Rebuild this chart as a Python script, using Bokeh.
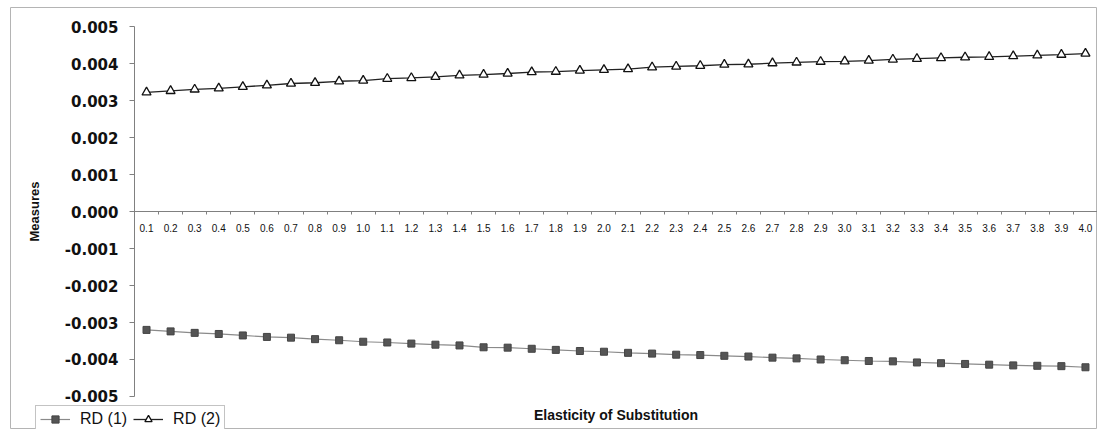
from bokeh.plotting import figure
from bokeh.models import Range1d, Legend, LegendItem, Label, NumeralTickFormatter, FixedTicker
from bokeh.embed import file_html
from bokeh.resources import INLINE

# Data
elasticity = ["0.1", "0.2", "0.3", "0.4", "0.5", "0.6", "0.7", "0.8", "0.9", "1.0",
              "1.1", "1.2", "1.3", "1.4", "1.5", "1.6", "1.7", "1.8", "1.9", "2.0",
              "2.1", "2.2", "2.3", "2.4", "2.5", "2.6", "2.7", "2.8", "2.9", "3.0",
              "3.1", "3.2", "3.3", "3.4", "3.5", "3.6", "3.7", "3.8", "3.9", "4.0"]
rd1 = [-0.00320, -0.00324, -0.00328, -0.00331, -0.00335, -0.00339, -0.00341, -0.00345, -0.00348, -0.00352,
       -0.00354, -0.00357, -0.00360, -0.00362, -0.00367, -0.00368, -0.00371, -0.00374, -0.00377, -0.00379,
       -0.00382, -0.00384, -0.00387, -0.00388, -0.00390, -0.00392, -0.00395, -0.00397, -0.00400, -0.00402,
       -0.00404, -0.00405, -0.00408, -0.00410, -0.00412, -0.00414, -0.00416, -0.00417, -0.00418, -0.00421]
rd2 = [0.00322, 0.00326, 0.00330, 0.00333, 0.00337, 0.00341, 0.00346, 0.00348, 0.00352, 0.00354,
       0.00359, 0.00361, 0.00364, 0.00368, 0.00370, 0.00373, 0.00377, 0.00378, 0.00381, 0.00383,
       0.00385, 0.00390, 0.00392, 0.00394, 0.00397, 0.00398, 0.00401, 0.00403, 0.00405, 0.00406,
       0.00408, 0.00411, 0.00413, 0.00415, 0.00417, 0.00418, 0.00420, 0.00422, 0.00424, 0.00427]
y_ticks = [-0.005, -0.004, -0.003, -0.002, -0.001, 0.0, 0.001, 0.002, 0.003, 0.004, 0.005]

n = len(elasticity)
xs = list(range(n))

p = figure(x_range=Range1d(-5.65, n - 0.5), y_range=Range1d(-0.005892, 0.005514),
           width=1097, height=429, output_backend="svg", toolbar_location=None,
           min_border_left=10, min_border_right=0, min_border_top=7, min_border_bottom=0)
p.outline_line_color = "#b4b4b4"
p.outline_line_width = 1
p.xgrid.grid_line_color = None
p.ygrid.grid_line_color = None
p.background_fill_color = "white"

# y axis (drawn at the left edge of the category area)
p.yaxis.fixed_location = -0.5
p.yaxis.bounds = (y_ticks[0], y_ticks[-1])
p.yaxis.ticker = FixedTicker(ticks=y_ticks)
p.yaxis.formatter = NumeralTickFormatter(format="0.000")
p.yaxis.major_tick_in = 0
p.yaxis.major_tick_out = 5
p.yaxis.minor_tick_line_color = None
p.yaxis.axis_line_color = "#808080"
p.yaxis.major_tick_line_color = "#808080"
p.yaxis.major_label_text_font = "DejaVu Sans"
p.yaxis.major_label_text_font_style = "bold"
p.yaxis.major_label_text_font_size = "15px"
p.yaxis.major_label_text_color = "#111111"
p.yaxis.major_label_standoff = 11
p.yaxis.axis_label = "Measures"
p.yaxis.axis_label_text_font = "Liberation Sans"
p.yaxis.axis_label_text_font_style = "bold"
p.yaxis.axis_label_text_font_size = "13px"
p.yaxis.axis_label_text_color = "#111111"
p.yaxis.axis_label_standoff = 20

# x axis at zero, tick marks between categories
p.xaxis.fixed_location = 0
p.xaxis.bounds = (-0.5, n - 0.5)
p.xaxis.ticker = FixedTicker(ticks=xs, minor_ticks=[i - 0.5 for i in range(n + 1)])
p.xaxis.major_label_overrides = {i: lab for i, lab in enumerate(elasticity)}
p.xaxis.major_tick_line_color = None
p.xaxis.minor_tick_in = 0
p.xaxis.minor_tick_out = 3
p.xaxis.minor_tick_line_color = "#808080"
p.xaxis.axis_line_color = "#808080"
p.xaxis.major_label_text_font = "Liberation Sans"
p.xaxis.major_label_text_font_size = "10px"
p.xaxis.major_label_text_color = "#111111"
p.xaxis.major_label_standoff = 6

r1 = p.line(xs, rd1, line_color="#8a8a8a", line_width=1.2)
m1 = p.scatter(xs, rd1, marker="square", size=7, fill_color="#555555", line_color="#444444")
r2 = p.line(xs, rd2, line_color="#222222", line_width=1.3)
m2 = p.scatter(xs, rd2, marker="triangle", size=9, fill_color="white", line_color="#111111", line_width=1.3)

legend = Legend(items=[LegendItem(label="RD (1)", renderers=[r1, m1]),
                       LegendItem(label="RD (2)", renderers=[r2, m2])],
                orientation="horizontal", location=(25, -4),
                label_text_font="Liberation Sans", label_text_font_size="16px",
                label_text_color="#111111",
                border_line_color="#888888", padding=4, spacing=6, glyph_width=30,
                glyph_height=18, label_height=18,
                label_standoff=10, margin=0, background_fill_alpha=1)
p.add_layout(legend, "center")

p.add_layout(Label(x=(n - 1) / 2, y=-0.0055, text="Elasticity of Substitution", text_align="center",
                   text_baseline="middle", text_font="Liberation Sans", text_font_style="bold",
                   text_font_size="14px", text_color="#111111"))

open("out.html", "w").write(file_html(p, INLINE))
